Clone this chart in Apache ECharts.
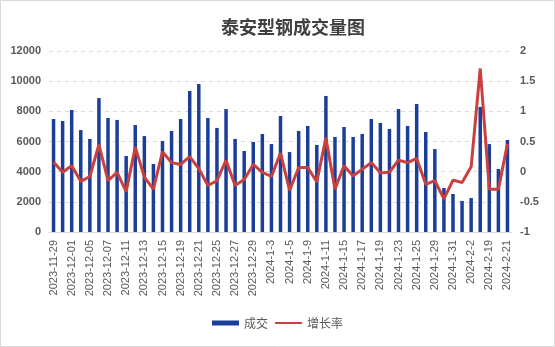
<!DOCTYPE html>
<html>
<head>
<meta charset="utf-8">
<script src="https://cdn.jsdelivr.net/npm/echarts@6/dist/echarts.min.js"></script>
<style>
  html, body { margin: 0; padding: 0; background: #fff; }
  #chart { width: 555px; height: 347px; }
</style>
</head>
<body>
<div id="chart"></div>
<script>
// Trading dates
const dates = [
  '2023-11-29', '2023-11-30', '2023-12-01', '2023-12-04', '2023-12-05', '2023-12-06', '2023-12-07', '2023-12-08',
  '2023-12-11', '2023-12-12', '2023-12-13', '2023-12-14', '2023-12-15', '2023-12-18', '2023-12-19', '2023-12-20',
  '2023-12-21', '2023-12-22', '2023-12-25', '2023-12-26', '2023-12-27', '2023-12-28', '2023-12-29',
  '2024-1-2', '2024-1-3', '2024-1-4', '2024-1-5', '2024-1-8', '2024-1-9', '2024-1-10', '2024-1-11', '2024-1-12',
  '2024-1-15', '2024-1-16', '2024-1-17', '2024-1-18', '2024-1-19', '2024-1-22', '2024-1-23', '2024-1-24',
  '2024-1-25', '2024-1-26', '2024-1-29', '2024-1-30', '2024-1-31', '2024-2-1', '2024-2-2', '2024-2-18',
  '2024-2-19', '2024-2-20', '2024-2-21'
];

// Daily traded volume
const volume = [
  7490, 7360, 8090, 6760, 6170, 8880, 7560, 7430,
  5040, 7090, 6360, 4510, 6030, 6700, 7490, 9350,
  9810, 7560, 6900, 8150, 6170, 5370, 5970,
  6500, 5830, 7690, 5300, 6700, 7030, 5770, 9020, 6300,
  6960, 6300, 6500, 7490, 7230, 6830, 8150, 7030,
  8490, 6630, 5500, 2920, 2520, 2060, 2250, 8290,
  5830, 4180, 6100
];

// Day-over-day growth rate
const growth = [
  0.16, -0.01, 0.10, -0.16, -0.08, 0.45, -0.15, -0.01,
  -0.33, 0.41, -0.09, -0.29, 0.33, 0.15, 0.12, 0.25,
  0.05, -0.23, -0.15, 0.19, -0.23, -0.13, 0.12,
  -0.01, -0.08, 0.31, -0.31, 0.07, 0.07, -0.17, 0.56, -0.29,
  0.10, -0.07, 0.04, 0.15, -0.02, -0.01, 0.19, 0.15,
  0.22, -0.21, -0.15, -0.45, -0.14, -0.18, 0.08, 1.71,
  -0.29, -0.29, 0.46
];

const BLUE = '#1b3f98';
const RED = '#c8403f';
const TEXT = '#595959';
const GRIDLINE = '#d9d9d9';
const FONT = 'Liberation Sans, Arial, sans-serif';

const chart = echarts.init(document.getElementById('chart'), null, { renderer: 'canvas' });

chart.setOption({
  animation: false,
  backgroundColor: '#ffffff',
  graphic: [{
    type: 'rect',
    shape: { x: 0.5, y: 0.5, width: 554, height: 346 },
    style: { fill: 'none', stroke: '#d9d9d9', lineWidth: 1 },
    silent: true,
    z: 100
  }],
  title: {
    text: '泰安型钢成交量图',
    left: 216,
    top: 13,
    textStyle: {
      fontFamily: 'Noto Sans CJK SC',
      fontSize: 18,
      fontWeight: 'bold',
      color: '#404040'
    }
  },
  legend: {
    bottom: 13,
    left: 'center',
    itemWidth: 27,
    itemHeight: 5,
    itemGap: 6,
    textStyle: { fontFamily: 'Noto Sans CJK SC', fontSize: 12, color: TEXT },
    data: [
      { name: '成交', icon: 'rect' },
      { name: '增长率', itemStyle: { opacity: 0 } }
    ]
  },
  grid: {
    left: 49,
    right: 43,
    top: 51,
    bottom: 115,
    containLabel: false
  },
  xAxis: {
    type: 'category',
    data: dates,
    boundaryGap: true,
    axisLine: { lineStyle: { color: GRIDLINE, width: 1 } },
    axisTick: { show: false },
    axisLabel: {
      interval: 1,
      rotate: 90,
      margin: 8,
      fontSize: 11,
      fontFamily: FONT,
      color: TEXT
    }
  },
  yAxis: [
    {
      type: 'value',
      min: 0,
      max: 12000,
      interval: 2000,
      axisLine: { show: false },
      axisTick: { show: false },
      axisLabel: {
        fontSize: 11, fontFamily: FONT, color: TEXT, fontWeight: 'bold', margin: 8,
        formatter: (v) => String(v)
      },
      splitLine: { lineStyle: { color: GRIDLINE, type: [4, 4], width: 1 } }
    },
    {
      type: 'value',
      min: -1,
      max: 2,
      interval: 0.5,
      axisLine: { show: false },
      axisTick: { show: false },
      axisLabel: {
        fontSize: 11, fontFamily: FONT, color: TEXT, fontWeight: 'bold', margin: 8,
        formatter: (v) => String(v)
      },
      splitLine: { show: false }
    }
  ],
  series: [
    {
      name: '成交',
      type: 'bar',
      data: volume,
      yAxisIndex: 0,
      barWidth: 3.5,
      itemStyle: { color: BLUE }
    },
    {
      name: '增长率',
      type: 'line',
      data: growth,
      yAxisIndex: 1,
      symbol: 'none',
      smooth: false,
      lineStyle: { color: RED, width: 3 },
      itemStyle: { color: RED },
      z: 3
    }
  ]
});
</script>
</body>
</html>
